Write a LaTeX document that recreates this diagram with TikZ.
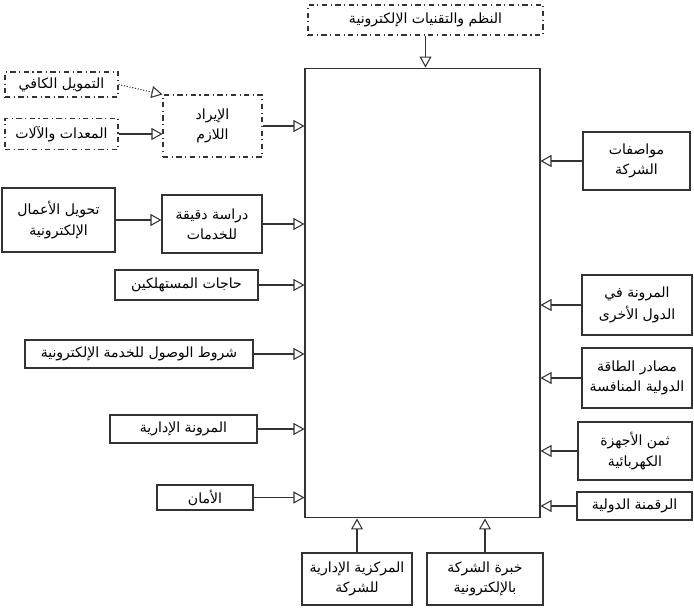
\documentclass[tikz,border=0pt]{standalone}
\usepackage{fontspec}
\newfontfamily\arabicfont[Script=Arabic]{DejaVu Sans}
\TeXXeTstate=1
\usetikzlibrary{arrows.meta, calc}

% one right-to-left line of Arabic
\newcommand{\ar}[1]{{\arabicfont\beginR #1\endR}}

\begin{document}
\begin{tikzpicture}[
  x=0.02cm, y=-0.02cm,
  box/.style={draw=black!80, line width=0.6pt, inner sep=1pt,
              font=\footnotesize, align=center},
  dbox/.style={box, dash dot},
  arr/.style={-{Triangle[open, length=2.2mm, width=2.4mm]}, line width=0.6pt, black!80},
]
  \useasboundingbox (0,0) rectangle (694,615);

  % central block
  \node[box, minimum width=4.7cm, minimum height=9cm] (core) at (422.5,293) {};
  \node[dbox, minimum width=4.7cm, minimum height=0.6cm] (top) at (425.5,20) {\ar{النظم والتقنيات الإلكترونية}};

  % left side
  \node[dbox, minimum width=2.26cm, minimum height=0.5cm]  (fund)  at (61.5,84.5) {\ar{التمويل الكافي}};
  \node[dbox, minimum width=2.26cm, minimum height=0.62cm] (equip) at (61.5,134)  {\ar{المعدات والآلات}};
  \node[dbox, minimum width=1.98cm, minimum height=1.24cm] (need)  at (212.5,126) {\ar{الإيراد}\\[2pt]\ar{اللازم}};
  \node[box, minimum width=2.26cm, minimum height=1.28cm]  (trans) at (58.5,220)  {\ar{تحويل الأعمال}\\[2pt]\ar{الإلكترونية}};
  \node[box, minimum width=2.0cm, minimum height=1.16cm]   (study) at (212,224)   {\ar{دراسة دقيقة}\\[2pt]\ar{للخدمات}};
  \node[box, minimum width=2.86cm, minimum height=0.6cm]   (cons)  at (186.5,285) {\ar{حاجات المستهلكين}};
  \node[box, minimum width=4.56cm, minimum height=0.56cm]  (cond)  at (139,354)   {\ar{شروط الوصول للخدمة الإلكترونية}};
  \node[box, minimum width=2.94cm, minimum height=0.56cm]  (flex)  at (183.5,429) {\ar{المرونة الإدارية}};
  \node[box, minimum width=1.92cm, minimum height=0.5cm]   (sec)   at (205,497.5) {\ar{الأمان}};

  % right side
  \node[box, minimum width=2.14cm, minimum height=1.16cm] (spec)   at (636.5,161) {\ar{مواصفات}\\[2pt]\ar{الشركة}};
  \node[box, minimum width=2.2cm, minimum height=1.2cm]   (abroad) at (637,305)   {\ar{المرونة في}\\[2pt]\ar{الدول الأخرى}};
  \node[box, minimum width=2.2cm, minimum height=1.2cm]   (energy) at (637,378)   {\ar{مصادر الطاقة}\\[2pt]\ar{الدولية المنافسة}};
  \node[box, minimum width=2.28cm, minimum height=1.16cm] (price)  at (635,451)   {\ar{ثمن الأجهزة}\\[2pt]\ar{الكهربائية}};
  \node[box, minimum width=2.3cm, minimum height=0.56cm]  (digit)  at (634.5,506) {\ar{الرقمنة الدولية}};

  % bottom
  \node[box, minimum width=2.2cm, minimum height=1.04cm]  (central) at (357,579) {\ar{المركزية الإدارية}\\[2pt]\ar{للشركة}};
  \node[box, minimum width=2.32cm, minimum height=1.04cm] (skill)   at (485,579) {\ar{خبرة الشركة}\\[2pt]\ar{بالإلكترونية}};

  % connectors
  \draw[arr] (top.south) -- (top.south |- core.north);
  \draw[arr, densely dotted] (fund.east) -- (need.north west);
  \draw[arr] (equip.east) -- (equip.east -| need.west);
  \draw[arr] (trans.east) -- (trans.east -| study.west);
  \foreach \n in {need, study, cons, cond, flex, sec}
    \draw[arr] (\n.east) -- (\n.east -| core.west);
  \foreach \n in {spec, abroad, energy, price, digit}
    \draw[arr] (\n.west) -- (\n.west -| core.east);
  \draw[arr] (central.north) -- (central.north |- core.south);
  \draw[arr] (skill.north) -- (skill.north |- core.south);
\end{tikzpicture}
\end{document}
